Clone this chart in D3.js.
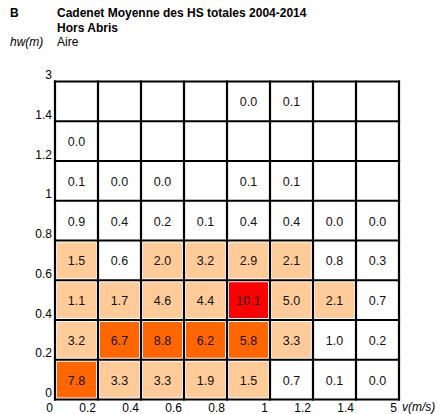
<!DOCTYPE html>
<html><head><meta charset="utf-8">
<script src="https://cdn.jsdelivr.net/npm/d3@7"></script>
<style>body{margin:0;background:#fff}svg{display:block;font-family:"Liberation Sans",Arial,sans-serif}</style>
</head><body>
<svg id="c" width="442" height="414"></svg>
<script>
// v (m/s) bin edges and hw (m) bin edges
const xTickLabels = ["0","0.2","0.4","0.6","0.8","1","1.2","1.4","5"];
const yTickLabels = ["0","0.2","0.4","0.6","0.8","1","1.2","1.4","3"];
// rows from bottom (hw 0-0.2) to top (hw 1.4-3); null = empty cell
const row0 = [7.8,3.3,3.3,1.9,1.5,0.7,0.1,0.0];
const row1 = [3.2,6.7,8.8,6.2,5.8,3.3,1.0,0.2];
const row2 = [1.1,1.7,4.6,4.4,10.1,5.0,2.1,0.7];
const row3 = [1.5,0.6,2.0,3.2,2.9,2.1,0.8,0.3];
const row4 = [0.9,0.4,0.2,0.1,0.4,0.4,0.0,0.0];
const row5 = [0.1,0.0,0.0,null,0.1,0.1,null,null];
const row6 = [0.0,null,null,null,null,null,null,null];
const row7 = [null,null,null,null,0.0,0.1,null,null];
const rows = [row0,row1,row2,row3,row4,row5,row6,row7];
const thresholds = [1.0, 5.0, 10.0];
const colors = ["#ffffff","#ffcc99","#ff6600","#ff0000"];

const svg = d3.select("#c");
const xE = d3.scaleLinear().domain([0,8]).range([55,399]);
const yE = d3.scaleLinear().domain([0,8]).range([399.5,81.5]);
const col = d3.scaleThreshold().domain(thresholds.map(t=>t+1e-9)).range(colors);

const cells = [];
rows.forEach((r,j)=>r.forEach((v,i)=>{ if(v!==null) cells.push({i,j,v}); }));

const inset = 2;
svg.append("g").selectAll("rect").data(cells).join("rect")
  .attr("x", d=>xE(d.i)+inset)
  .attr("y", d=>yE(d.j+1)+inset)
  .attr("width", d=>xE(d.i+1)-xE(d.i)-2*inset)
  .attr("height", d=>yE(d.j)-yE(d.j+1)-2*inset)
  .attr("fill", d=>col(d.v));

// grid lines
const g = svg.append("g").attr("stroke","#000").attr("stroke-width",2.2).attr("stroke-linecap","square");
d3.range(9).forEach(k=>{
  g.append("line").attr("x1",xE(k)).attr("x2",xE(k)).attr("y1",yE(8)).attr("y2",yE(0));
  g.append("line").attr("x1",xE(0)).attr("x2",xE(8)).attr("y1",yE(k)).attr("y2",yE(k));
});

svg.append("g").selectAll("text").data(cells).join("text")
  .attr("x", d=>(xE(d.i)+xE(d.i+1))/2)
  .attr("y", d=>(yE(d.j)+yE(d.j+1))/2+5)
  .attr("text-anchor","middle").attr("font-size",12.5).attr("fill","#111")
  .text(d=>d.v.toFixed(1));

// axes
const ax = svg.append("g").attr("transform","translate(0,399.5)")
  .call(d3.axisBottom(xE).tickValues(d3.range(9)).tickFormat(k=>xTickLabels[k]).tickSize(0));
ax.select(".domain").remove();
ax.selectAll("text").attr("font-size",12).attr("fill","#000").attr("font-family",null)
  .attr("text-anchor","end").attr("x",-2.5).attr("y",12).attr("dy",null);

const ay = svg.append("g").attr("transform","translate(52,0)")
  .call(d3.axisLeft(yE).tickValues(d3.range(9)).tickFormat(k=>yTickLabels[k]).tickSize(0));
ay.select(".domain").remove();
ay.selectAll("text").attr("font-size",12).attr("fill","#000").attr("font-family",null)
  .attr("text-anchor","end").attr("x",0).attr("y",-3).attr("dy",null);

// titles
svg.append("text").attr("x",10).attr("y",17).attr("font-weight","bold").attr("font-size",12).text("B");
svg.append("text").attr("x",57).attr("y",17).attr("font-weight","bold").attr("font-size",12).text("Cadenet Moyenne des HS totales 2004-2014");
svg.append("text").attr("x",57).attr("y",31.5).attr("font-weight","bold").attr("font-size",12).text("Hors Abris");
svg.append("text").attr("x",10).attr("y",46).attr("font-style","italic").attr("font-size",12).text("hw(m)");
svg.append("text").attr("x",57).attr("y",46).attr("font-size",12).text("Aire");
svg.append("text").attr("x",402).attr("y",411).attr("font-style","italic").attr("font-size",12).text("v(m/s)");
</script>
</body></html>
